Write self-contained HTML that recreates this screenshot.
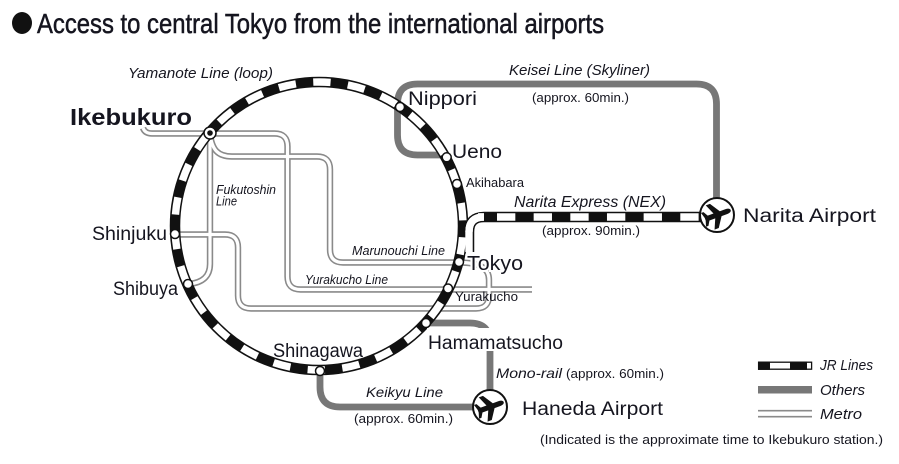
<!DOCTYPE html>
<html>
<head>
<meta charset="utf-8">
<style>
html,body{margin:0;padding:0;background:#fff;}
svg{display:block;}
text{font-family:"Liberation Sans",sans-serif;fill:#15151f;}
.it{font-style:italic;}
</style>
</head>
<body>
<svg width="899" height="464" viewBox="0 0 899 464" xmlns="http://www.w3.org/2000/svg">
<defs>
  <path id="plane" d="M13,0 C13,-1.6 11,-2.3 9,-2.3 L3.5,-2.3 L-2.5,-11.5 L-6.5,-11.5 L-2.5,-2.3 L-8,-2.3 L-10.5,-6.5 L-12.8,-6.5 L-11.2,-1.2 L-11.2,1.2 L-12.8,6.5 L-10.5,6.5 L-8,2.3 L-2.5,2.3 L-6.5,11.5 L-2.5,11.5 L3.5,2.3 L9,2.3 C11,2.3 13,1.6 13,0 Z" fill="#111"/>
</defs>

<!-- Title -->
<ellipse cx="22" cy="23" rx="10" ry="11" fill="#111"/>
<text x="37" y="33" font-size="28" textLength="567" lengthAdjust="spacingAndGlyphs" stroke="#15151f" stroke-width="0.5">Access to central Tokyo from the international airports</text>

<!-- Metro lines (outer gray) -->
<g fill="none" stroke="#8a8a8a" stroke-width="6.4">
  <path d="M143,128 Q145,133.5 152,133.5 L274.5,133.5 Q287.5,133.5 287.5,146.5 L287.5,276.5 Q287.5,289.5 300.5,289.5 L532,289.5"/>
  <path d="M210,134 C212,150 218,156.5 232,156.5 L317,156.5 Q330,156.5 330,169.5 L330,249.5 Q330,262.5 343,262.5 L459,262.5"/>
  <path d="M210,133 L210,264 Q210,282 189,284"/>
  <path d="M175,234.5 L225,234.5 Q238,234.5 238,247.5 L238,295.5 Q238,308.5 251,308.5 L476,308.5 Q489,308.5 489,295.5 L489,280 C489,268 480,262.5 459,262.5"/>
</g>
<g fill="none" stroke="#fff" stroke-width="3.2">
  <path d="M143,128 Q145,133.5 152,133.5 L274.5,133.5 Q287.5,133.5 287.5,146.5 L287.5,276.5 Q287.5,289.5 300.5,289.5 L532,289.5"/>
  <path d="M210,134 C212,150 218,156.5 232,156.5 L317,156.5 Q330,156.5 330,169.5 L330,249.5 Q330,262.5 343,262.5 L459,262.5"/>
  <path d="M210,133 L210,264 Q210,282 189,284"/>
  <path d="M175,234.5 L225,234.5 Q238,234.5 238,247.5 L238,295.5 Q238,308.5 251,308.5 L476,308.5 Q489,308.5 489,295.5 L489,280 C489,268 480,262.5 459,262.5"/>
</g>

<!-- Other lines (gray) -->
<g fill="none" stroke="#777" stroke-width="6.8">
  <path d="M446,155 L417.5,155 Q397.5,155 397.5,135 L397.5,104 Q397.5,84 417.5,84 L696.5,84 Q716.5,84 716.5,104 L716.5,200"/>
  <path d="M426,323 L470,323 Q490,323 490,343 L490,392"/>
  <path d="M320,371 L320,387 Q320,407 340,407 L475,407"/>
</g>

<!-- Yamanote ring + NEX -->
<circle cx="319" cy="226" r="144" fill="none" stroke="#111" stroke-width="10.5"/>
<path d="M469,252 L469,232 Q469,217 484,217 L702,217" fill="none" stroke="#111" stroke-width="10.5"/>
<circle cx="319" cy="226" r="144" fill="none" stroke="#fff" stroke-width="7.4" stroke-dasharray="17.4 17.4" stroke-dashoffset="-11.3"/>
<path d="M469,252 L469,232 Q469,217 484,217 L478,217" fill="none" stroke="#fff" stroke-width="7.4"/>
<path d="M469,232 Q469,217 484,217 L478.5,217" fill="none" stroke="#fff" stroke-width="7.4"/>
<line x1="497" y1="217" x2="700" y2="217" stroke="#fff" stroke-width="7.4" stroke-dasharray="18.33 18.33"/>

<!-- Hamamatsucho label background -->
<rect x="427" y="328" width="140" height="23" fill="#fff"/>

<!-- Stations -->
<g fill="#fff" stroke="#111" stroke-width="1.5">
  <circle cx="400" cy="107" r="4.5"/>
  <circle cx="446.7" cy="157.3" r="4.5"/>
  <circle cx="457" cy="184" r="4.5"/>
  <circle cx="459" cy="262" r="4.5"/>
  <circle cx="448" cy="288.5" r="4.5"/>
  <circle cx="426" cy="323" r="4.5"/>
  <circle cx="320" cy="371" r="4.5"/>
  <circle cx="188" cy="284" r="4.5"/>
  <circle cx="175" cy="234" r="4.5"/>
  <circle cx="210" cy="133" r="6"/>
</g>
<circle cx="210" cy="133" r="2.8" fill="#111"/>

<!-- Airports -->
<circle cx="717" cy="215" r="17" fill="#fff" stroke="#111" stroke-width="2"/>
<use href="#plane" transform="translate(717,215) rotate(-20) scale(1.12)"/>
<circle cx="490" cy="407" r="17" fill="#fff" stroke="#111" stroke-width="2"/>
<use href="#plane" transform="translate(490,407) rotate(-20) scale(1.12)"/>

<!-- Labels -->
<text class="it" x="128" y="78" font-size="15" textLength="145" lengthAdjust="spacingAndGlyphs">Yamanote Line (loop)</text>
<text x="70" y="125" font-size="23" font-weight="bold" textLength="122" lengthAdjust="spacingAndGlyphs">Ikebukuro</text>
<text class="it" x="216" y="194" font-size="12.5" textLength="60" lengthAdjust="spacingAndGlyphs">Fukutoshin</text>
<text class="it" x="216" y="205.5" font-size="12.5" textLength="21" lengthAdjust="spacingAndGlyphs">Line</text>
<text x="92" y="240" font-size="19" textLength="75" lengthAdjust="spacingAndGlyphs">Shinjuku</text>
<text x="113" y="295" font-size="19" textLength="65" lengthAdjust="spacingAndGlyphs">Shibuya</text>
<text x="273" y="357" font-size="19" textLength="90" lengthAdjust="spacingAndGlyphs">Shinagawa</text>
<text x="408" y="105" font-size="19" textLength="69" lengthAdjust="spacingAndGlyphs">Nippori</text>
<text x="452" y="158" font-size="19" textLength="50" lengthAdjust="spacingAndGlyphs">Ueno</text>
<text x="466" y="187" font-size="12.5" textLength="58" lengthAdjust="spacingAndGlyphs">Akihabara</text>
<text class="it" x="509" y="75" font-size="15" textLength="141" lengthAdjust="spacingAndGlyphs">Keisei Line (Skyliner)</text>
<text x="532" y="102" font-size="12.5" textLength="97" lengthAdjust="spacingAndGlyphs">(approx. 60min.)</text>
<text class="it" x="514" y="207" font-size="16" textLength="152" lengthAdjust="spacingAndGlyphs">Narita Express (NEX)</text>
<text x="542" y="235" font-size="12.5" textLength="98" lengthAdjust="spacingAndGlyphs">(approx. 90min.)</text>
<text x="743" y="222" font-size="19" textLength="133" lengthAdjust="spacingAndGlyphs">Narita Airport</text>
<text class="it" x="352" y="255" font-size="12.5" textLength="93" lengthAdjust="spacingAndGlyphs">Marunouchi Line</text>
<text class="it" x="305" y="284" font-size="12.5" textLength="83" lengthAdjust="spacingAndGlyphs">Yurakucho Line</text>
<text x="467" y="270" font-size="20" textLength="56" lengthAdjust="spacingAndGlyphs" stroke="#fff" stroke-width="4" paint-order="stroke">Tokyo</text>
<text x="455" y="301" font-size="12.5" textLength="63" lengthAdjust="spacingAndGlyphs">Yurakucho</text>
<text x="428" y="349" font-size="19" textLength="135" lengthAdjust="spacingAndGlyphs">Hamamatsucho</text>
<text class="it" x="496" y="378" font-size="14" textLength="66" lengthAdjust="spacingAndGlyphs">Mono-rail</text>
<text x="566" y="378" font-size="12.5" textLength="98" lengthAdjust="spacingAndGlyphs">(approx. 60min.)</text>
<text class="it" x="366" y="397" font-size="14" textLength="77" lengthAdjust="spacingAndGlyphs">Keikyu Line</text>
<text x="354" y="423" font-size="12.5" textLength="99" lengthAdjust="spacingAndGlyphs">(approx. 60min.)</text>
<text x="522" y="415" font-size="19" textLength="141" lengthAdjust="spacingAndGlyphs">Haneda Airport</text>
<text x="540" y="444" font-size="12.5" textLength="343" lengthAdjust="spacingAndGlyphs">(Indicated is the approximate time to Ikebukuro station.)</text>

<!-- Legend -->
<rect x="758.6" y="362.2" width="53" height="7" fill="#fff" stroke="#111" stroke-width="1.3"/>
<rect x="758" y="361.5" width="12" height="8.4" fill="#111"/>
<rect x="790" y="361.5" width="17" height="8.4" fill="#111"/>
<text class="it" x="820" y="370" font-size="15" textLength="53" lengthAdjust="spacingAndGlyphs">JR Lines</text>
<rect x="758" y="386" width="54" height="7.5" fill="#777"/>
<text class="it" x="820" y="395" font-size="15" textLength="45" lengthAdjust="spacingAndGlyphs">Others</text>
<line x1="758" y1="410.7" x2="812" y2="410.7" stroke="#8a8a8a" stroke-width="1.6"/>
<line x1="758" y1="416.7" x2="812" y2="416.7" stroke="#8a8a8a" stroke-width="1.6"/>
<text class="it" x="820" y="419" font-size="15" textLength="42" lengthAdjust="spacingAndGlyphs">Metro</text>
</svg>
</body>
</html>
